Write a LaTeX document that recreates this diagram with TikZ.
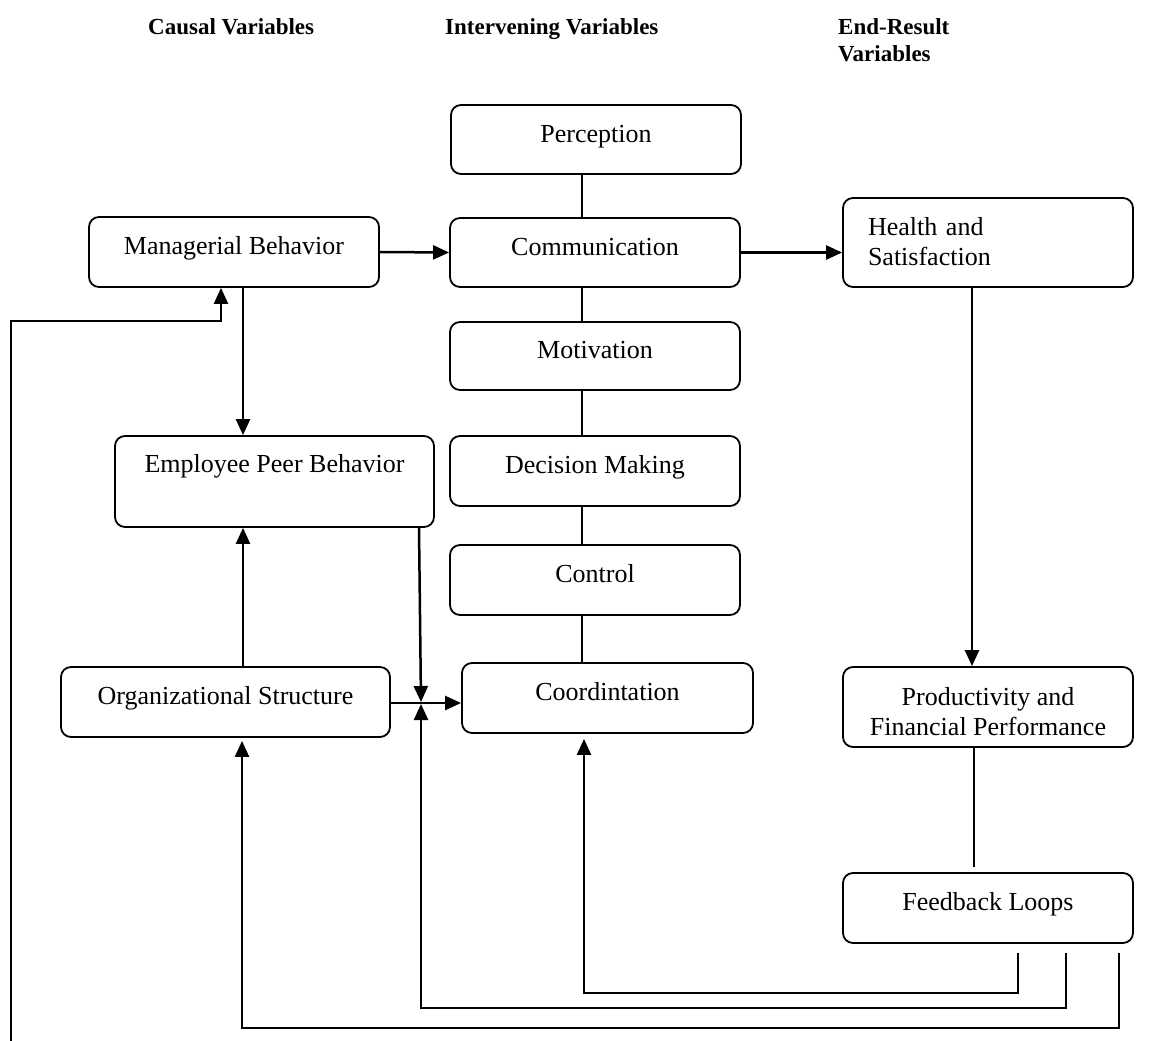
\documentclass[tikz,border=0pt]{standalone}
\usepackage{fontspec}
\setmainfont{Liberation Serif}
\usetikzlibrary{arrows.meta,calc}
\begin{document}
\begin{tikzpicture}[x=1pt,y=-1pt,
  box/.style={draw, line width=1.8pt, rounded corners=10pt, inner sep=0pt,
    font=\fontsize{26}{30}\selectfont, text height=17pt, text depth=12pt, align=center},
  arr/.style={line width=2.5pt, -{Triangle[length=16pt,width=14pt]}},
  thinl/.style={line width=1.3pt},
  hdr/.style={anchor=base west, inner sep=0pt, font=\fontsize{23}{27}\selectfont\bfseries}
]
\useasboundingbox (0,0) rectangle (1165,1041);

% headers
\node[hdr] (h1) at (148,35) {Causal Variables};
\node[hdr] (h2) at (445,35) {Intervening Variables};
\node[hdr, align=left, text width=150pt] (h3) at (838,35) {End-Result\\Variables};

% boxes
\node[box, minimum width=290pt, minimum height=69pt] (perc) at (596,139.5) {Perception};
\node[box, minimum width=290pt, minimum height=69pt] (comm) at (595,252.5) {Communication};
\node[box, minimum width=290pt, minimum height=68pt] (motiv) at (595,356) {Motivation};
\node[box, minimum width=290pt, minimum height=70pt] (dec) at (595,471) {Decision Making};
\node[box, minimum width=290pt, minimum height=70pt] (ctrl) at (595,580) {Control};
\node[box, minimum width=291pt, minimum height=70pt] (coord) at (607.5,698) {Coordintation};

\node[box, minimum width=290pt, minimum height=70pt] (mgr) at (234,252) {Managerial Behavior};
\node[box, minimum width=319pt, minimum height=91pt, text depth=35pt] (emp) at (274.5,481.5) {Employee Peer Behavior};
\node[box, minimum width=329pt, minimum height=70pt] (org) at (225.5,702) {Organizational Structure};

\node[box, minimum width=290pt, minimum height=89pt, align=left, text width=240pt, inner xsep=25pt, text height=20pt, text depth=35pt] (health) at (988,242.5) {Health and\\Satisfaction};
\node[box, minimum width=290pt, minimum height=80pt, text height=68pt, text depth=12pt] (prod) at (988,707) {Productivity and\\Financial Performance};
\node[box, minimum width=290pt, minimum height=70pt] (fb) at (988,908) {Feedback Loops};

% helper coordinates
\coordinate (vx) at (582,0);
\coordinate (ax) at (243,0);
\coordinate (jn) at (421,703);
\coordinate (lb) at (11,1041);
\coordinate (lc) at (11,321);
\coordinate (mx) at (221,321);
\coordinate (f1) at (1018,953);
\coordinate (b1) at (584,993);
\coordinate (f2) at (1066,953);
\coordinate (b2) at (421,1008);
\coordinate (f3) at (1119,953);
\coordinate (b3) at (242,1028);
\coordinate (ex) at (419,0);
\coordinate (hx) at (972,0);
\coordinate (px) at (974,0);

% intervening chain
\draw[thinl] (perc.south -| vx) -- (comm.north -| vx);
\draw[thinl] (comm.south -| vx) -- (motiv.north -| vx);
\draw[thinl] (motiv.south -| vx) -- (dec.north -| vx);
\draw[thinl] (dec.south -| vx) -- (ctrl.north -| vx);
\draw[thinl] (ctrl.south -| vx) -- (coord.north -| vx);

% causal arrows
\draw[arr] (mgr.east) -- (comm.west);
\draw[arr] (comm.east) -- (comm.east -| health.west);
\draw[arr] (mgr.south -| ax) -- (emp.north -| ax);
\draw[arr] (org.north -| ax) -- (emp.south -| ax);
\draw[arr] (lb) -- (lc) -- (mx) -- (mgr.south -| mx);
\draw[arr] (emp.south -| ex) -- ($(jn)+(0,-1)$);
\draw[arr] (org.east |- jn) -- (coord.west |- jn);

% end result
\draw[arr] (health.south -| hx) -- (prod.north -| hx);
\draw[thinl] (prod.south -| px) -- ($(fb.north -| px)+(0,-5)$);

% feedback loops
\draw[arr, shorten >=5pt] (f1) |- (b1) -- (coord.south -| b1);
\draw[arr] (f2) |- (b2) -- ($(jn)+(0,1)$);
\draw[arr, shorten >=3pt] (f3) |- (b3) -- (org.south -| b3);
\end{tikzpicture}
\end{document}
